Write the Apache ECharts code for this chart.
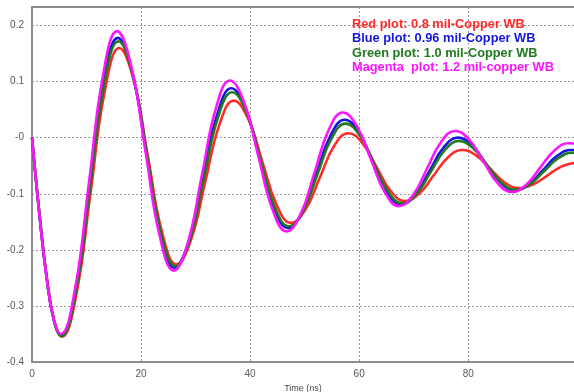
<!DOCTYPE html>
<html>
<head>
<meta charset="utf-8">
<script src="https://cdn.jsdelivr.net/npm/echarts@6/dist/echarts.min.js"></script>
<style>
html,body{margin:0;padding:0;background:#fff;}
#chart{width:574px;height:392px;}
</style>
</head>
<body>
<div id="chart"></div>
<script>
// ---- data (time in ns, amplitude) ----
var seriesNames = [
  'Red plot: 0.8 mil-Copper WB',
  'Blue plot: 0.96 mil-Copper WB',
  'Green plot: 1.0 mil-Copper WB',
  'Magenta  plot: 1.2 mil-copper WB'
];
var seriesColors = ['#ff2a2a', '#1515e0', '#1f7a1f', '#ff14ff'];

var redT = [0,1.375,2.75,4.125,5.5,8.125,10.75,13.375,16.0,18.625,21.25,23.875,26.5,29.125,31.75,34.375,37.0,39.625,42.25,44.875,47.5,50.125,52.75,55.375,58.0,60.6,63.2,65.8,68.4,71.025,73.65,76.275,78.9,81.5,84.1,86.7,89.3,91.9,94.5,97.1,99.7,100];
var redV = [0,-0.136,-0.251,-0.328,-0.355,-0.2796,-0.0975,0.0846,0.16,0.1035,-0.033,-0.1695,-0.226,-0.1832,-0.08,0.0232,0.066,0.0341,-0.043,-0.1201,-0.152,-0.1286,-0.072,-0.0154,0.008,-0.0097,-0.0525,-0.0953,-0.113,-0.0997,-0.0675,-0.0353,-0.022,-0.032,-0.056,-0.080,-0.090,-0.0834,-0.0675,-0.0516,-0.045,-0.045];

var blueT = [0,1.3375,2.675,4.0125,5.35,7.95,10.55,13.15,15.75,18.35,20.95,23.55,26.15,28.75,31.35,33.95,36.55,39.15,41.75,44.35,46.95,49.55,52.15,54.75,57.35,59.94,62.525,65.11,67.7,70.3,72.9,75.5,78.1,80.7,83.3,85.9,88.5,91.1,93.7,96.3,98.9,100];
var blueV = [0,-0.1351,-0.2496,-0.3261,-0.353,-0.2752,-0.0875,0.1002,0.178,0.118,-0.027,-0.172,-0.232,-0.1851,-0.072,0.0411,0.088,0.0515,-0.0365,-0.1245,-0.161,-0.1327,-0.0645,0.0037,0.032,0.0099,-0.0435,-0.0969,-0.119,-0.1016,-0.0595,-0.0174,0.0,-0.0138,-0.047,-0.0802,-0.094,-0.0835,-0.058,-0.0325,-0.022,-0.0222];

var greenT = [0,1.35,2.7,4.05,5.4,8.0125,10.625,13.2375,15.85,18.4625,21.075,23.6875,26.3,28.9,31.5,34.1,36.7,39.3,41.9,44.5,47.1,49.7,52.3,54.9,57.5,60.1,62.7,65.3,67.9,70.5,73.1,75.7,78.3,80.9,83.5,86.1,88.7,91.3,93.9,96.5,99.1,100];
var greenV = [0,-0.1355,-0.2503,-0.3271,-0.354,-0.277,-0.091,0.095,0.172,0.1133,-0.0285,-0.1703,-0.229,-0.1836,-0.074,0.0356,0.081,0.046,-0.0385,-0.123,-0.158,-0.1312,-0.0665,-0.0018,0.025,0.0042,-0.046,-0.0962,-0.117,-0.1007,-0.0615,-0.0223,-0.006,-0.0187,-0.0495,-0.0803,-0.093,-0.0833,-0.06,-0.0367,-0.027,-0.0272];

var magentaT = [0,1.325,2.65,3.975,5.3,7.875,10.45,13.025,15.6,18.2,20.8,23.4,26.0,28.575,31.15,33.725,36.3,38.9,41.5,44.1,46.7,49.275,51.85,54.425,57.0,59.575,62.15,64.725,67.3,69.875,72.45,75.025,77.6,80.2,82.8,85.4,88.0,90.6,93.2,95.8,98.4,100];
var magentaV = [0,-0.134,-0.2475,-0.3234,-0.35,-0.2709,-0.08,0.1109,0.19,0.1275,-0.0235,-0.1745,-0.237,-0.1874,-0.0675,0.0524,0.102,0.0626,-0.0325,-0.1276,-0.167,-0.136,-0.061,0.014,0.045,0.0205,-0.0385,-0.0975,-0.122,-0.1024,-0.055,-0.0076,0.012,-0.004,-0.0425,-0.081,-0.097,-0.0843,-0.0535,-0.0227,-0.010,-0.011];

var xTicks = [0, 20, 40, 60, 80];
var yTicks = [-0.4, -0.3, -0.2, -0.1, 0, 0.1, 0.2];
var xTitle = 'Time (ns)';

function zip(t, v) { return t.map(function (x, i) { return [x, v[i]]; }); }
var allT = [redT, blueT, greenT, magentaT];
var allV = [redV, blueV, greenV, magentaV];

var chart = echarts.init(document.getElementById('chart'), null, {renderer: 'canvas'});
var grid = {left: 32, right: 0, top: 7, bottom: 30, containLabel: false, outerBoundsMode: 'none'};
var axisGray = '#8c8c8c';
var labelStyle = {color: '#5a5a5a', fontSize: 10, fontFamily: 'Liberation Sans, Arial, sans-serif'};

var order = [0, 2, 1, 3]; // red, green, blue, magenta (magenta on top)
var series = order.map(function (i) {
  return {
    name: seriesNames[i],
    type: 'line',
    xAxisIndex: 0,
    yAxisIndex: 0,
    data: zip(allT[i], allV[i]),
    smooth: 0.45,
    showSymbol: false,
    symbol: 'none',
    lineStyle: {color: seriesColors[i], width: 2.6},
    z: 2 + i
  };
});

var graphics = seriesNames.map(function (n, i) {
  return {
    type: 'text',
    left: 352,
    top: 17.5 + i * 14.5,
    z: 100,
    style: {
      text: n,
      fill: seriesColors[i],
      font: 'bold 12.8px "Liberation Sans", Arial, sans-serif'
    }
  };
});

chart.setOption({
  animation: false,
  backgroundColor: '#ffffff',
  grid: grid,
  xAxis: [{
    type: 'value',
    min: 0,
    max: 99.4,
    interval: 20,
    name: xTitle,
    nameLocation: 'middle',
    nameGap: 16,
    nameTextStyle: {color: '#4a4a4a', fontSize: 9, fontFamily: 'Liberation Sans, Arial, sans-serif'},
    axisLine: {show: true, onZero: false, lineStyle: {color: axisGray, width: 2}},
    axisTick: {show: false},
    axisLabel: Object.assign({margin: 7, formatter: function (v) {
      return xTicks.indexOf(v) >= 0 ? String(v) : '';
    }}, labelStyle),
    splitLine: {show: true, lineStyle: {color: '#9a9a9a', type: [2, 2], width: 1}}
  }, {
    type: 'value',
    position: 'top',
    min: 0,
    max: 99.4,
    axisLine: {show: true, onZero: false, lineStyle: {color: axisGray, width: 2}},
    axisTick: {show: false},
    axisLabel: {show: false},
    splitLine: {show: false}
  }],
  yAxis: {
    type: 'value',
    min: -0.4,
    max: 0.233,
    interval: 0.1,
    axisLine: {show: true, onZero: false, lineStyle: {color: axisGray, width: 2}},
    axisTick: {show: false},
    axisLabel: Object.assign({margin: 8, formatter: function (v) {
      for (var k = 0; k < yTicks.length; k++) {
        if (Math.abs(v - yTicks[k]) < 1e-9) {
          return yTicks[k] === 0 ? '-0' : yTicks[k].toFixed(1);
        }
      }
      return '';
    }}, labelStyle),
    splitLine: {show: true, lineStyle: {color: '#9a9a9a', type: [2, 2], width: 1}}
  },
  series: series,
  graphic: graphics
});
</script>
</body>
</html>
